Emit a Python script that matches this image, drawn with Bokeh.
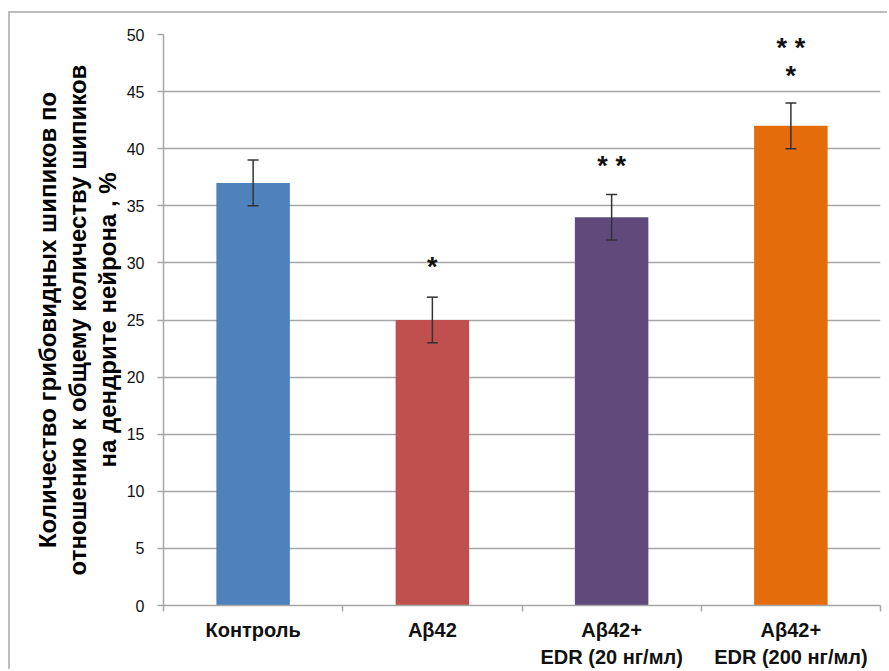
import math
from bokeh.plotting import figure
from bokeh.models import (Range1d, FixedTicker, Whisker, TeeHead, ColumnDataSource)
from bokeh.core.properties import value
from bokeh.embed import file_html
from bokeh.resources import INLINE

# ---- data ----
categories = ["Контроль", "Aβ42", "Aβ42+\nEDR (20 нг/мл)", "Aβ42+\nEDR (200 нг/мл)"]
means = [37, 25, 34, 42]
errors = [2, 2, 2, 2]
colors = ["#4F81BD", "#C0504D", "#604A7B", "#E46C0A"]
sig_x = [2, 3, 4, 4]
sig_y = [29.6, 38.5, 48.8, 46.4]
sig_text = ["*", "* *", "* *", "*"]
y_ticks = [0, 5, 10, 15, 20, 25, 30, 35, 40, 45, 50]
y_title_lines = ["Количество грибовидных шипиков по",
                 "отношению к общему количеству шипиков",
                 "на дендрите нейрона , %"]

x = list(range(1, len(categories) + 1))
lower = [m - e for m, e in zip(means, errors)]
upper = [m + e for m, e in zip(means, errors)]

W, H = 879, 658
p = figure(width=W, height=H, output_backend="svg", toolbar_location=None,
           x_range=Range1d(0.5, len(categories) + 0.5), y_range=Range1d(0, 50),
           min_border_left=153, min_border_right=9, min_border_top=21, min_border_bottom=66)
p.styles = {"border-top": "2px solid #BDBDBD", "border-left": "2px solid #BDBDBD",
            "margin-top": "11px", "margin-left": "8px"}
p.outline_line_color = None
p.background_fill_color = "white"
p.border_fill_color = "white"

src = ColumnDataSource(dict(x=x, top=means, color=colors, lower=lower, upper=upper))
p.vbar(x="x", top="top", width=0.41, bottom=0, color="color", source=src, line_color=None)

p.add_layout(Whisker(source=src, base="x", lower="lower", upper="upper", level="overlay",
                     line_color="#333333", line_width=1.5,
                     upper_head=TeeHead(size=11, line_color="#333333", line_width=1.5),
                     lower_head=TeeHead(size=11, line_color="#333333", line_width=1.5)))

p.text(x=sig_x, y=sig_y, text=sig_text, text_align="center", text_baseline="middle",
       text_font=value("Liberation Sans"), text_font_size="27px", text_font_style="bold",
       text_color="#111111")

# grid
p.xgrid.visible = False
p.ygrid.ticker = FixedTicker(ticks=y_ticks)
p.ygrid.grid_line_color = "#A6A6A6"
p.ygrid.grid_line_width = 1.5

# y axis
p.yaxis.ticker = FixedTicker(ticks=y_ticks)
p.yaxis.axis_line_color = "#A6A6A6"
p.yaxis.axis_line_width = 1.5
p.yaxis.major_tick_line_color = "#A6A6A6"
p.yaxis.major_tick_line_width = 1.5
p.yaxis.major_tick_in = 0
p.yaxis.major_tick_out = 6
p.yaxis.minor_tick_line_color = None
p.yaxis.major_label_text_font = "Liberation Sans"
p.yaxis.major_label_text_font_size = "16px"
p.yaxis.major_label_text_color = "#111111"
p.yaxis.major_label_standoff = 13
p.yaxis.axis_label = "\n".join(y_title_lines)
p.yaxis.axis_label_text_font = "Liberation Sans"
p.yaxis.axis_label_text_font_size = "24px"
p.yaxis.axis_label_text_font_style = "bold"
p.yaxis.axis_label_text_color = "#000000"
p.yaxis.axis_label_text_line_height = 1.1
p.yaxis.axis_label_standoff = 3

# x axis
p.xaxis.ticker = FixedTicker(ticks=x, minor_ticks=[i + 0.5 for i in range(0, len(categories) + 1)])
p.xaxis.major_label_overrides = {i: c for i, c in zip(x, categories)}
p.xaxis.axis_line_color = "#A6A6A6"
p.xaxis.axis_line_width = 1.5
p.xaxis.major_tick_line_color = None
p.xaxis.major_tick_in = 0
p.xaxis.major_tick_out = 0
p.xaxis.minor_tick_line_color = "#A6A6A6"
p.xaxis.minor_tick_line_width = 1.5
p.xaxis.minor_tick_in = 0
p.xaxis.minor_tick_out = 6
p.xaxis.major_label_text_font = "Liberation Sans"
p.xaxis.major_label_text_font_size = "20px"
p.xaxis.major_label_text_font_style = "bold"
p.xaxis.major_label_text_color = "#111111"
p.xaxis.major_label_text_line_height = 1.25
p.xaxis.major_label_standoff = 7

open("out.html", "w").write(file_html(p, INLINE))
